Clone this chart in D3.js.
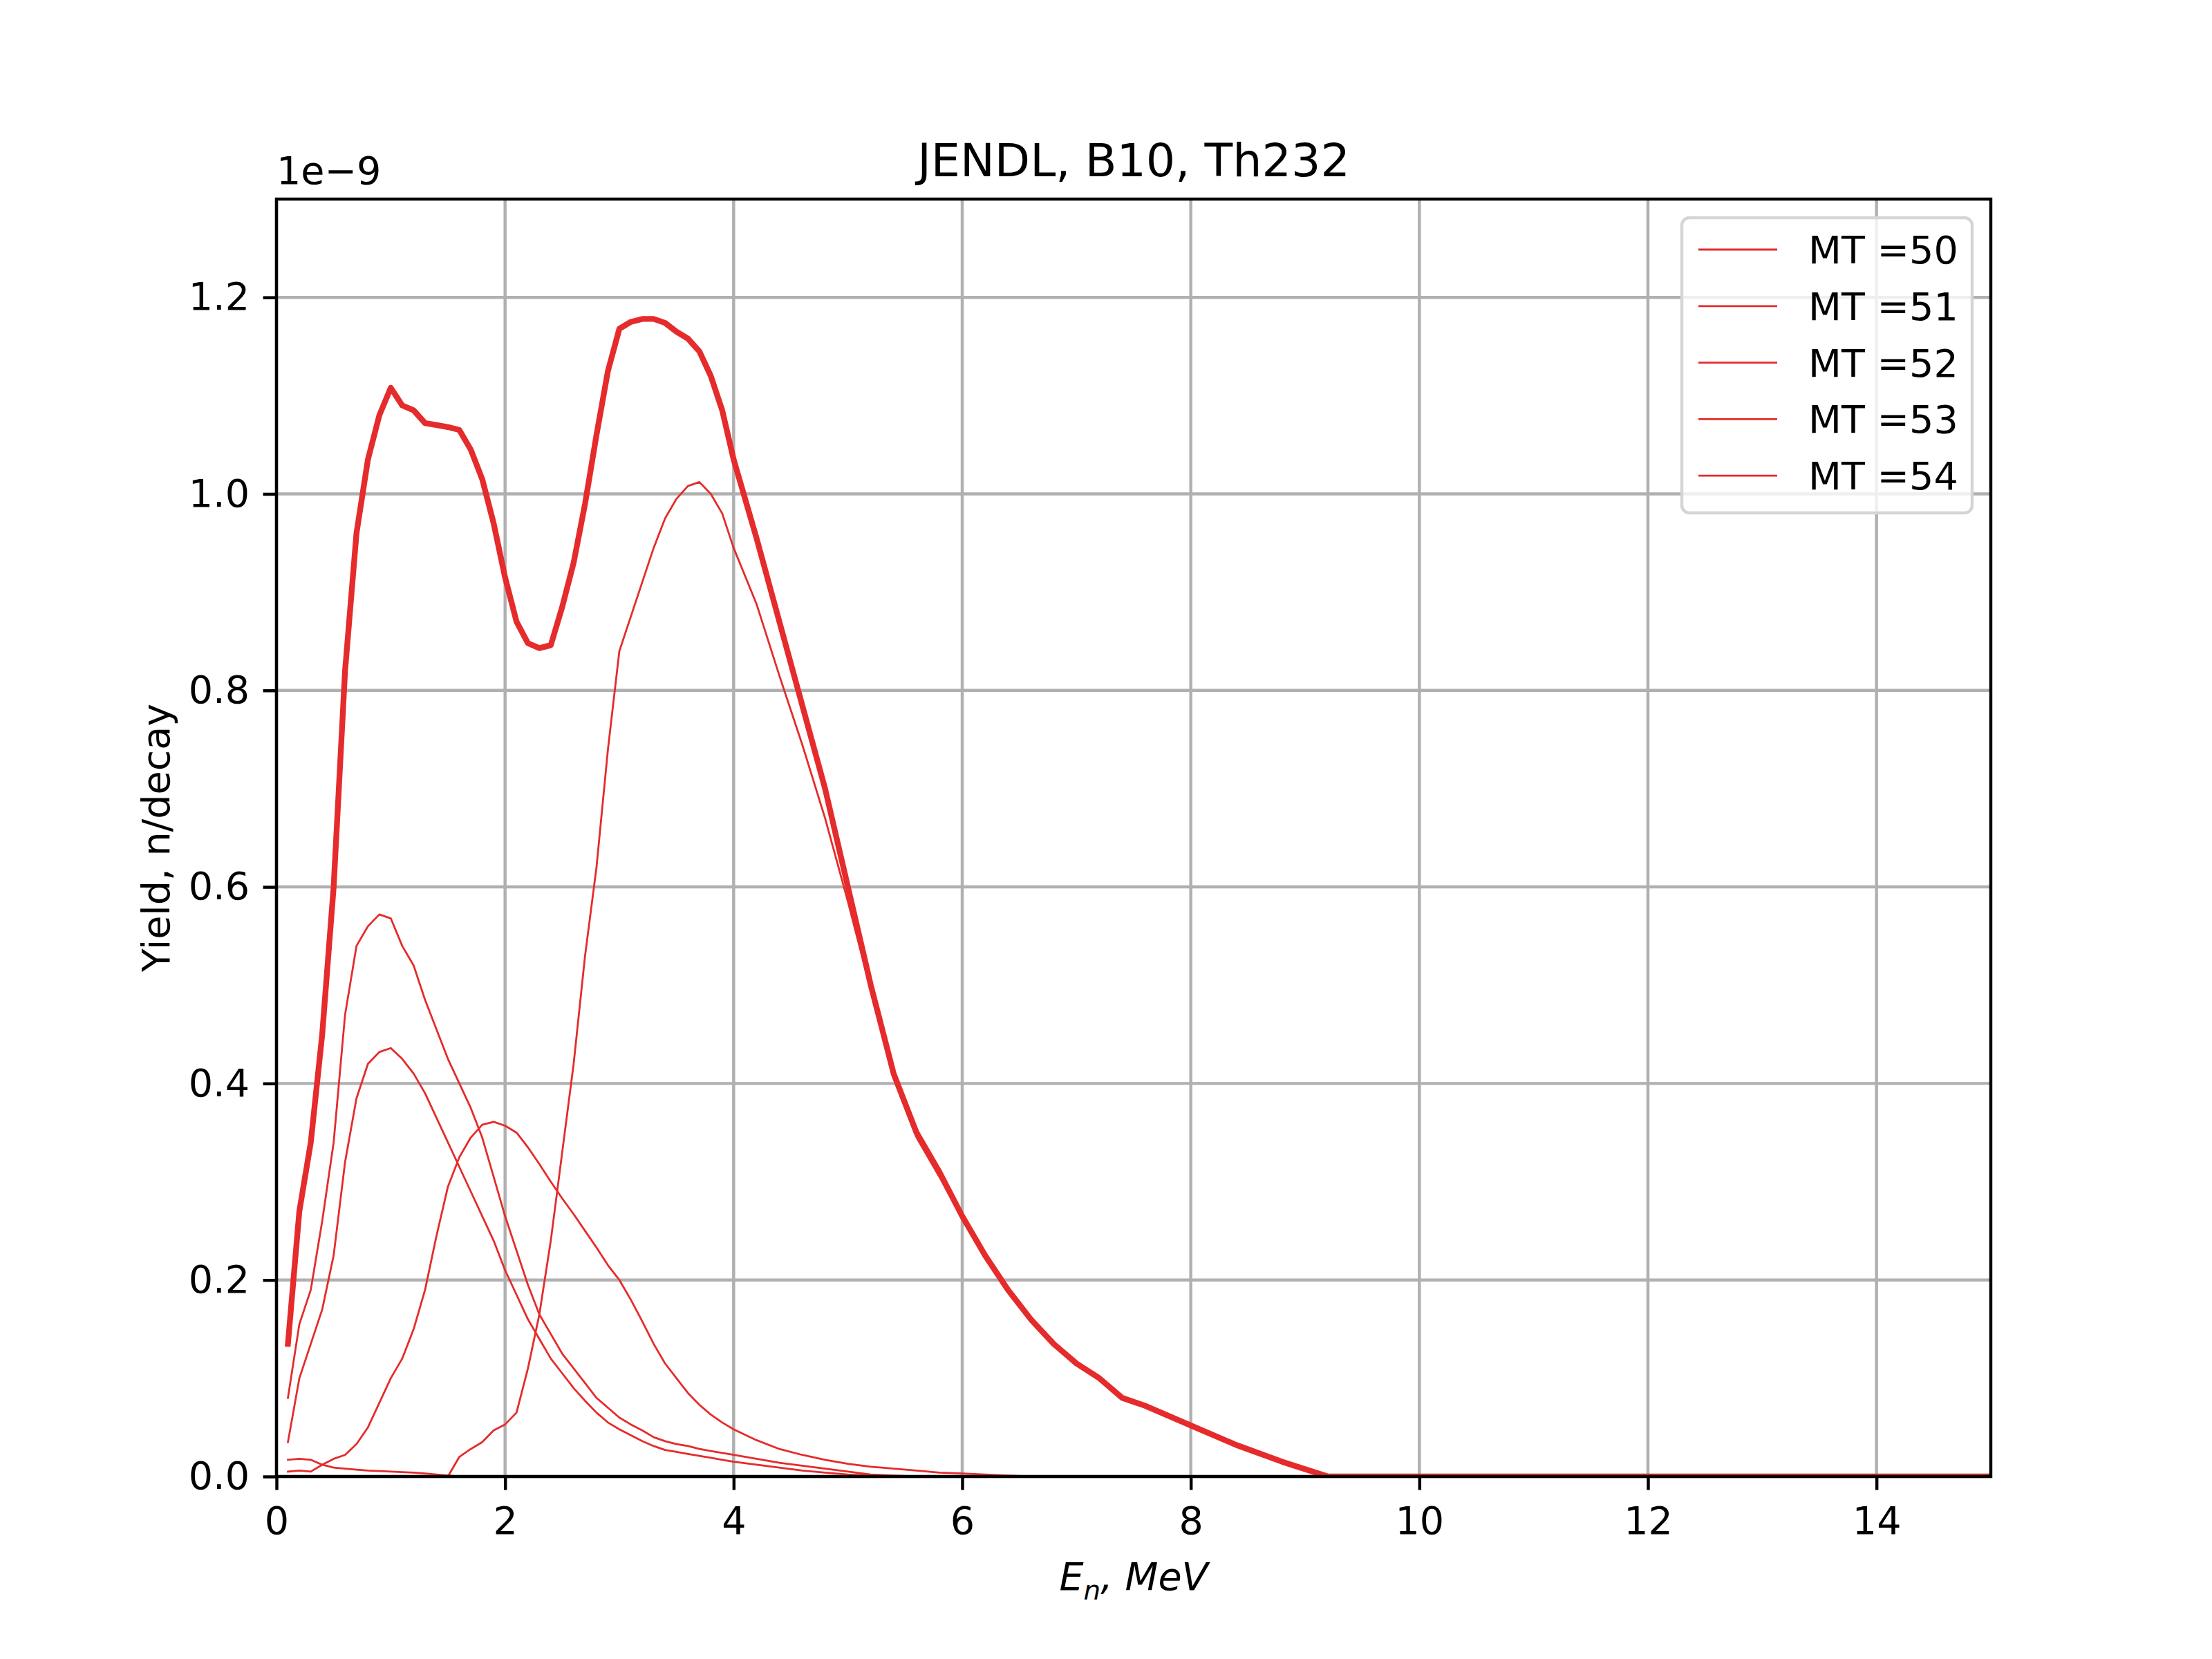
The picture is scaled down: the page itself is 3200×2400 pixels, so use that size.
<!DOCTYPE html>
<html>
<head>
<meta charset="utf-8">
<script src="https://cdn.jsdelivr.net/npm/d3@7"></script>
<style>
  body { margin: 0; background: #fff; }
  text { font-family: "DejaVu Sans", sans-serif; }
</style>
</head>
<body>
<svg id="chart" width="3200" height="2400"></svg>
<script>
// energies, MeV
var energy = [0.1,0.2,0.3,0.4,0.5,0.6,0.7,0.8,0.9,1.0,1.1,1.2,1.3,1.4,1.5,1.6,1.7,1.8,1.9,2.0,
  2.1,2.2,2.3,2.4,2.5,2.6,2.7,2.8,2.9,3.0,3.1,3.2,3.3,3.4,3.5,3.6,3.7,3.8,3.9,4.0,
  4.2,4.4,4.6,4.8,5.0,5.2,5.4,5.6,5.8,6.0,6.2,6.4,6.6,6.8,7.0,7.2,7.4,7.6,7.8,8.0,
  8.4,8.8,9.2,10,15];

// yields in units of 1e-9 n/decay
var total = [0.135,0.27,0.34,0.45,0.6,0.82,0.96,1.035,1.08,1.108,1.09,1.085,1.072,1.07,1.068,1.065,1.045,1.015,0.97,0.915,
  0.87,0.848,0.843,0.846,0.885,0.93,0.99,1.06,1.125,1.168,1.175,1.178,1.178,1.174,1.165,1.158,1.145,1.12,1.085,1.035,
  0.955,0.87,0.785,0.7,0.6,0.5,0.41,0.35,0.31,0.265,0.225,0.19,0.16,0.135,0.115,0.1,0.08,0.072,0.062,0.052,
  0.032,0.015,0,0,0];
var mt50 = [0,0,0,0,0,0,0,0,0,0,0,0,0,0,0,0.02,0.028,0.035,0.047,0.053,
  0.065,0.11,0.165,0.24,0.33,0.42,0.53,0.62,0.74,0.84,0.875,0.91,0.945,0.975,0.995,1.008,1.012,1.0,0.98,0.945,
  0.888,0.815,0.745,0.67,0.585,0.495,0.405,0.345,0.305,0.262,0.223,0.189,0.16,0.135,0.115,0.1,0.08,0.072,0.062,0.052,
  0.032,0.015,0,0,0];
var mt51 = [0.08,0.155,0.19,0.26,0.34,0.47,0.54,0.56,0.572,0.568,0.54,0.52,0.485,0.455,0.425,0.4,0.375,0.345,0.305,0.265,
  0.23,0.195,0.165,0.145,0.125,0.11,0.095,0.08,0.07,0.06,0.053,0.047,0.04,0.036,0.033,0.031,0.028,0.026,0.024,0.022,
  0.018,0.014,0.011,0.008,0.005,0.002,0.001,0,0,0,0,0,0,0,0,0,0,0,0,0,
  0,0,0,0,0];
var mt52 = [0.035,0.1,0.135,0.17,0.225,0.32,0.385,0.42,0.432,0.436,0.425,0.41,0.39,0.365,0.34,0.315,0.29,0.265,0.24,0.21,
  0.185,0.16,0.14,0.12,0.105,0.09,0.077,0.065,0.055,0.048,0.042,0.036,0.031,0.027,0.025,0.023,0.021,0.019,0.017,0.015,
  0.012,0.009,0.006,0.004,0.002,0.001,0,0,0,0,0,0,0,0,0,0,0,0,0,0,
  0,0,0,0,0];
var mt53 = [0.005,0.006,0.005,0.012,0.018,0.022,0.033,0.05,0.075,0.1,0.12,0.15,0.19,0.245,0.295,0.325,0.345,0.358,0.361,0.357,
  0.35,0.335,0.318,0.3,0.283,0.267,0.25,0.233,0.215,0.2,0.18,0.158,0.135,0.115,0.1,0.085,0.073,0.063,0.055,0.048,
  0.037,0.028,0.022,0.017,0.013,0.01,0.008,0.006,0.004,0.003,0.002,0.001,0,0,0,0,0,0,0,0,
  0,0,0,0,0];
var mt54 = [0.017,0.018,0.017,0.012,0.009,0.008,0.007,0.006,0.0055,0.005,0.0045,0.004,0.003,0.002,0.001,0,0,0,0,0,
  0,0,0,0,0,0,0,0,0,0,0,0,0,0,0,0,0,0,0,0,
  0,0,0,0,0,0,0,0,0,0,0,0,0,0,0,0,0,0,0,0,
  0,0,0,0,0];

var seriesNames = ["MT =50", "MT =51", "MT =52", "MT =53", "MT =54"];
var seriesValues = [mt50, mt51, mt52, mt53, mt54];
var xTicks = [0, 2, 4, 6, 8, 10, 12, 14];
var yTicks = [0, 0.2, 0.4, 0.6, 0.8, 1.0, 1.2];

(function() {
  var red = "#e52b2b";
  var pt = 400 / 72;
  var fs = 10 * pt;
  var x0 = 400, x1 = 2880, y0 = 288, y1 = 2136;

  var svg = d3.select("#chart");
  var x = d3.scaleLinear().domain([0, 15]).range([x0, x1]);
  var y = d3.scaleLinear().domain([0, 1.3]).range([y1, y0]);

  svg.append("defs").append("clipPath").attr("id", "clip")
    .append("rect").attr("x", x0).attr("y", y0).attr("width", x1 - x0).attr("height", y1 - y0);

  // grid
  var grid = svg.append("g").attr("stroke", "#b0b0b0").attr("stroke-width", 0.8 * pt);
  grid.selectAll("line.gx").data(xTicks).enter().append("line")
    .attr("x1", function(d) { return x(d); }).attr("x2", function(d) { return x(d); })
    .attr("y1", y0).attr("y2", y1);
  grid.selectAll("line.gy").data(yTicks).enter().append("line")
    .attr("x1", x0).attr("x2", x1)
    .attr("y1", function(d) { return y(d); }).attr("y2", function(d) { return y(d); });

  // curves
  var line = d3.line().x(function(d, i) { return x(energy[i]); }).y(function(d) { return y(d); });
  var plot = svg.append("g").attr("clip-path", "url(#clip)").attr("fill", "none").attr("stroke", red)
    .attr("stroke-linejoin", "round").attr("stroke-linecap", "square");
  plot.append("path").datum(total).attr("d", line).attr("stroke-width", 1.5 * pt);
  seriesValues.forEach(function(vals) {
    plot.append("path").datum(vals).attr("d", line).attr("stroke-width", 0.5 * pt);
  });

  // axes
  var xAxis = d3.axisBottom(x).tickValues(xTicks).tickSize(3.5 * pt).tickPadding(3.5 * pt).tickFormat(d3.format("d"));
  var yAxis = d3.axisLeft(y).tickValues(yTicks).tickSize(3.5 * pt).tickPadding(3.5 * pt).tickFormat(d3.format(".1f"));
  var gx = svg.append("g").attr("transform", "translate(0," + y1 + ")").call(xAxis);
  var gy = svg.append("g").attr("transform", "translate(" + x0 + ",0)").call(yAxis);
  [gx, gy].forEach(function(g) {
    g.select(".domain").remove();
    g.selectAll(".tick line").attr("stroke", "#000").attr("stroke-width", 0.8 * pt);
    g.selectAll(".tick text").attr("font-size", fs).attr("fill", "#000")
      .style("font-family", "DejaVu Sans");
  });
  gx.selectAll(".tick text").attr("dy", "0.8em");

  svg.append("rect").attr("x", x0).attr("y", y0).attr("width", x1 - x0).attr("height", y1 - y0)
    .attr("fill", "none").attr("stroke", "#000").attr("stroke-width", 0.8 * pt);

  // texts
  svg.append("text").attr("x", (x0 + x1) / 2).attr("y", y0 - 6 * pt).attr("text-anchor", "middle")
    .attr("font-size", 12 * pt).text("JENDL, B10, Th232");
  svg.append("text").attr("x", x0).attr("y", y0 - 4 * pt).attr("font-size", fs).text("1e\u22129");
  svg.append("text").attr("transform", "translate(245," + (y0 + y1) / 2 + ") rotate(-90)")
    .attr("text-anchor", "middle").attr("font-size", fs).text("Yield, n/decay");

  var xl = svg.append("text").attr("x", (x0 + x1) / 2).attr("y", 2300).attr("text-anchor", "middle")
    .attr("font-size", fs).attr("font-style", "italic");
  xl.append("tspan").text("E");
  xl.append("tspan").attr("font-size", fs * 0.7).attr("dy", 0.25 * fs).text("n");
  xl.append("tspan").attr("dy", -0.25 * fs).text(", MeV");

  // legend
  var lg = svg.append("g");
  lg.append("rect").attr("x", 2433).attr("y", 315).attr("width", 420).attr("height", 427)
    .attr("rx", 2 * pt).attr("fill", "#fff").attr("fill-opacity", 0.8)
    .attr("stroke", "#d5d5d5").attr("stroke-width", 0.8 * pt);
  seriesNames.forEach(function(name, i) {
    var yy = 361 + i * 81.8;
    lg.append("line").attr("x1", 2457).attr("x2", 2571).attr("y1", yy).attr("y2", yy)
      .attr("stroke", red).attr("stroke-width", 0.5 * pt);
    lg.append("text").attr("x", 2616).attr("y", yy).attr("dy", "0.36em").attr("font-size", fs).text(name);
  });
})();
</script>
</body>
</html>
